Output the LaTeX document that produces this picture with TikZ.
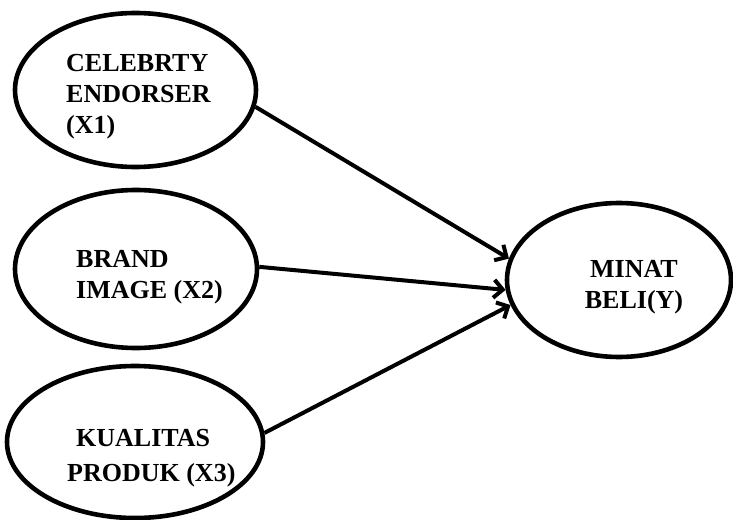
\documentclass[tikz,border=0pt]{standalone}
\usepackage{fontspec}
\setmainfont{Liberation Serif}[BoldFont={Liberation Serif Bold}]
\usetikzlibrary{shapes.geometric,arrows.meta}
\begin{document}
\begin{tikzpicture}[x=1pt,y=-1pt,
  varbox/.style={draw, ellipse, line width=4.6pt, inner sep=0pt},
  label/.style={inner sep=0pt, font=\bfseries\fontsize{26}{31}\selectfont},
  link/.style={line width=4pt, -{Straight Barb[length=9pt,width=18pt]}}]
\useasboundingbox (0,0) rectangle (733,519);
\fill[white] (0,0) rectangle (733,519);
\node[varbox, minimum width=241pt, minimum height=154pt] (x1) at (135.5,90) {};
\node[varbox, minimum width=242pt, minimum height=158pt] (x2) at (136,269) {};
\node[varbox, minimum width=256pt, minimum height=152pt] (x3) at (135,442) {};
\node[varbox, minimum width=224pt, minimum height=154pt] (y) at (619,280) {};
\node[label, align=left, anchor=west] (tx1) at (66,97) {\textbf{CELEBRTY}\\\textbf{ENDORSER}\\\textbf{(X1)}};
\node[label, align=left, anchor=west] (tx2) at (76,277) {\textbf{BRAND}\\\textbf{IMAGE (X2)}};
\node[label, align=left, anchor=west] (tx3) at (67,458) {\hspace*{9pt}\textbf{KUALITAS}\\[4pt]\textbf{PRODUK (X3)}};
\node[label, align=center] (ty) at (634,287) {\textbf{MINAT}\\\textbf{BELI(Y)}};
\draw[link] (x1.-8.6) -- (y.169.9);
\draw[link] (x2.1.4) -- (y.185);
\draw[link] (x3.4.3) -- (y.193.7);
\end{tikzpicture}
\end{document}
